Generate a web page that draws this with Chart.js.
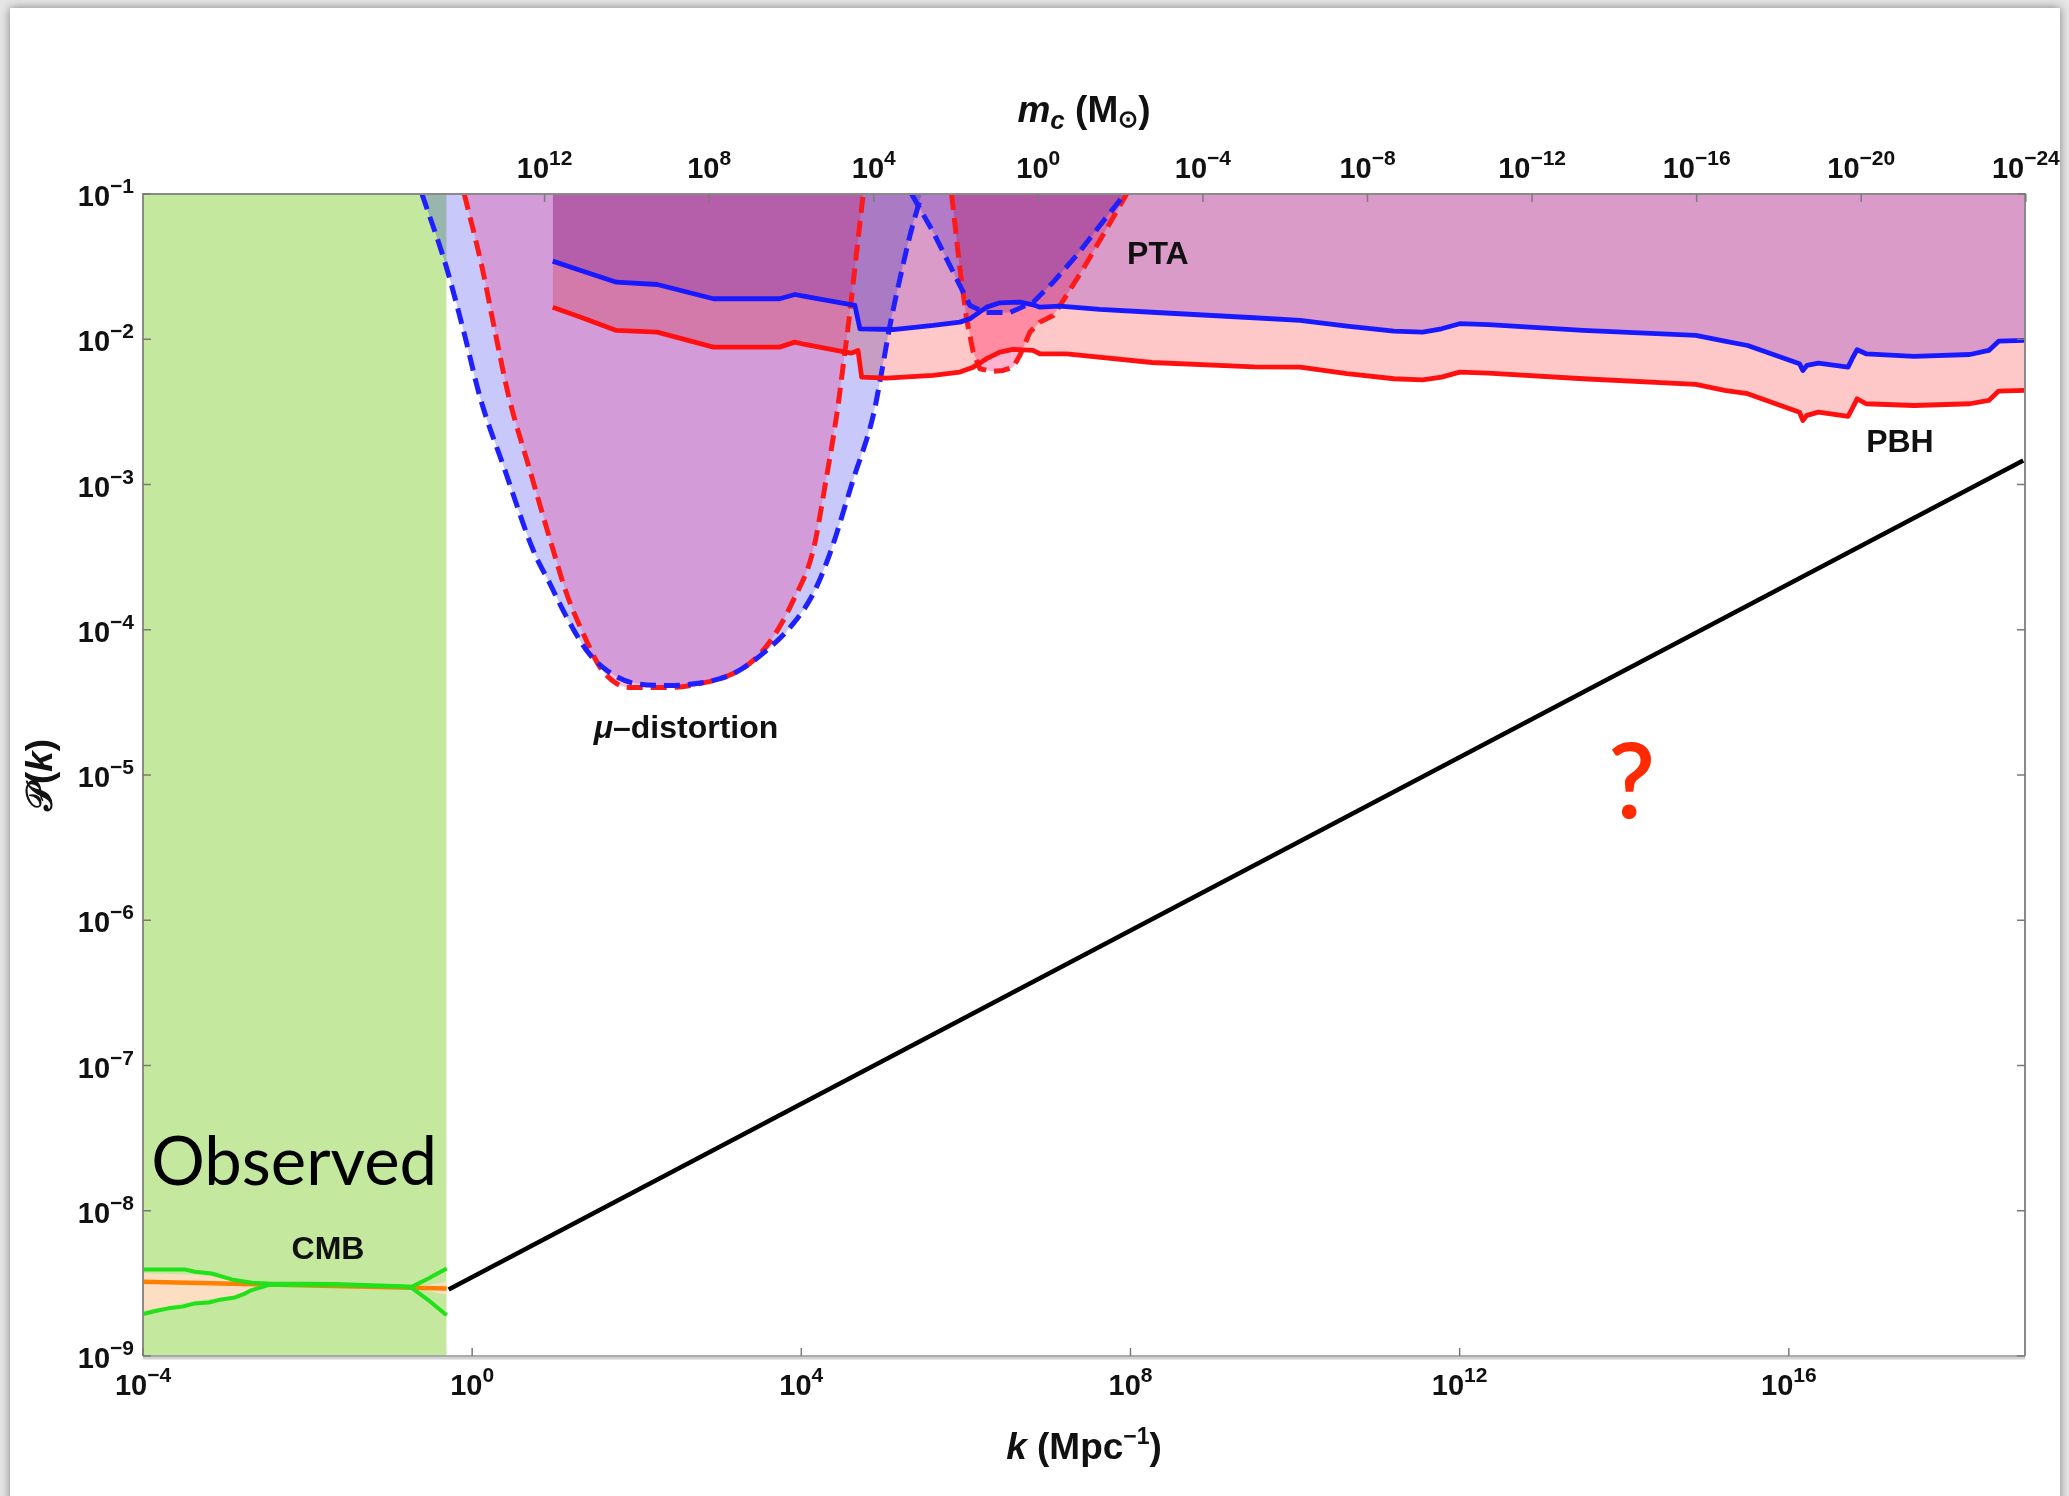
<!DOCTYPE html>
<html>
<head>
<meta charset="utf-8">
<script src="https://cdn.jsdelivr.net/npm/chart.js@4.4.0/dist/chart.umd.min.js"></script>
<style>
    html, body { margin: 0; padding: 0; }
    body { width: 2069px; height: 1496px; background: #e6e6e6; position: relative; overflow: hidden; }
    #card { position: absolute; left: 10px; top: 8px; width: 2050px; height: 1520px; background: #fff; box-shadow: 0 0 9px rgba(0, 0, 0, 0.45); }
    #chart { position: absolute; left: 0; top: 0; }
</style>
</head>
<body>
<div id="card"></div>
<canvas id="chart" width="2069" height="1496"></canvas>
<script>
// all values are [log10 k, log10 P(k)]
const kMaxLog = 18.87;
const massOffset = 13.76;          // log10 m_c = massOffset - 2 log10 k

const observedK = [-4, -0.31];

const muBlue = [[-0.61, -1.0], [-0.313, -1.504], [-0.096, -1.962], [0.095, -2.398], [0.399, -2.903], [0.742, -3.453],
    [0.945, -3.683], [1.148, -3.913], [1.391, -4.142], [1.634, -4.279], [1.957, -4.367], [2.363, -4.383], [2.768, -4.367],
    [3.173, -4.302], [3.578, -4.142], [3.901, -3.958], [4.144, -3.752], [4.347, -3.476], [4.627, -2.972], [4.874, -2.524],
    [4.976, -2.226], [5.077, -1.905], [5.198, -1.584], [5.32, -1.286], [5.462, -1.0]];

const muRed = [[-0.096, -1.0], [0.12, -1.504], [0.283, -1.962], [0.446, -2.398], [0.702, -2.903], [0.985, -3.453],
    [1.148, -3.752], [1.35, -4.027], [1.553, -4.257], [1.756, -4.371], [1.957, -4.398], [2.363, -4.398], [2.768, -4.371],
    [3.173, -4.302], [3.416, -4.211], [3.659, -4.05], [3.902, -3.798], [4.144, -3.453], [4.299, -2.972], [4.429, -2.524],
    [4.509, -2.18], [4.59, -1.813], [4.672, -1.401], [4.752, -1.0]];

const ptaBlue = [[5.34, -1.0], [5.603, -1.263], [5.846, -1.538], [6.049, -1.767], [6.231, -1.816], [6.535, -1.816],
    [6.818, -1.745], [7.061, -1.607], [7.345, -1.423], [7.628, -1.217], [7.932, -1.0]];

const ptaRed = [[5.826, -1.0], [5.927, -1.515], [6.008, -1.859], [6.089, -2.089], [6.17, -2.203], [6.316, -2.222],
    [6.45, -2.215], [6.575, -2.192], [6.656, -2.111], [6.778, -1.951], [6.899, -1.882], [7.061, -1.836], [7.183, -1.733],
    [7.425, -1.515], [7.71, -1.24], [7.953, -1.0]];

const pbhBlue = [[0.979, -1.462], [1.32, -1.527], [1.753, -1.607], [2.249, -1.623], [2.931, -1.721], [3.736, -1.721],
    [3.922, -1.692], [4.044, -1.705], [4.651, -1.767], [4.712, -1.928], [5.117, -1.933], [5.603, -1.905], [5.927, -1.882],
    [6.049, -1.859], [6.252, -1.779], [6.413, -1.749], [6.656, -1.745], [6.818, -1.763], [6.899, -1.779], [7.142, -1.772],
    [7.628, -1.795], [8.26, -1.814], [9.5, -1.852], [10.06, -1.87], [10.63, -1.91], [11.2, -1.944], [11.55, -1.951],
    [11.78, -1.928], [12.0, -1.893], [12.35, -1.9], [13.5, -1.939], [14.87, -1.974], [15.22, -2.013], [15.5, -2.043],
    [16.13, -2.169], [16.17, -2.215], [16.22, -2.18], [16.36, -2.164], [16.72, -2.192], [16.77, -2.134], [16.83, -2.072],
    [16.94, -2.1], [17.52, -2.118], [18.2, -2.105], [18.43, -2.077], [18.55, -2.013], [18.87, -2.008]];

const pbhRed = [[0.979, -1.779], [1.32, -1.848], [1.753, -1.939], [2.249, -1.951], [2.931, -2.054], [3.736, -2.054],
    [3.922, -2.02], [4.044, -2.036], [4.603, -2.096], [4.689, -2.077], [4.733, -2.261], [5.036, -2.268], [5.603, -2.249],
    [5.927, -2.226], [6.089, -2.192], [6.252, -2.134], [6.413, -2.089], [6.571, -2.07], [6.814, -2.077], [6.899, -2.1],
    [7.224, -2.1], [8.26, -2.16], [9.5, -2.19], [10.06, -2.192], [10.63, -2.237], [11.2, -2.272], [11.55, -2.279],
    [11.78, -2.261], [12.0, -2.226], [12.35, -2.233], [13.5, -2.272], [14.87, -2.311], [15.22, -2.352], [15.5, -2.375],
    [16.13, -2.502], [16.17, -2.559], [16.22, -2.524], [16.36, -2.502], [16.72, -2.531], [16.77, -2.478], [16.83, -2.41],
    [16.94, -2.444], [17.52, -2.456], [18.2, -2.444], [18.43, -2.421], [18.55, -2.357], [18.87, -2.352]];

const cmbUpper = [[-4.0, -8.404], [-3.49, -8.404], [-3.368, -8.42], [-3.165, -8.432], [-2.923, -8.473], [-2.679, -8.496],
    [-2.477, -8.5], [-1.667, -8.505], [-0.857, -8.519], [-0.735, -8.524], [-0.533, -8.466], [-0.31, -8.397]];
const cmbLower = [[-4.0, -8.712], [-3.85, -8.69], [-3.69, -8.672], [-3.52, -8.66], [-3.368, -8.638], [-3.2, -8.632],
    [-3.085, -8.615], [-2.882, -8.597], [-2.76, -8.57], [-2.679, -8.546], [-2.477, -8.512], [-1.667, -8.512],
    [-0.857, -8.524], [-0.735, -8.531], [-0.533, -8.615], [-0.31, -8.719]];
const cmbBandUpper = [[-4.0, -8.43], [-3.368, -8.44], [-3.165, -8.452], [-2.923, -8.48], [-2.679, -8.5], [-2.477, -8.503],
    [-0.735, -8.521], [-0.533, -8.51], [-0.31, -8.49]];
const cmbBandLower = [[-4.0, -8.69], [-3.69, -8.655], [-3.368, -8.62], [-3.085, -8.6], [-2.882, -8.585], [-2.679, -8.54],
    [-2.477, -8.512], [-0.735, -8.527], [-0.533, -8.55], [-0.31, -8.58]];
const cmbCentral = [[-4.0, -8.489], [-0.31, -8.535]];

const powerLaw = [[-0.286, -8.542], [18.848, -2.834]];

const yTickExps = [-9, -8, -7, -6, -5, -4, -3, -2, -1];
const kTickExps = [-4, 0, 4, 8, 12, 16];
const massTickExps = [12, 8, 4, 0, -4, -8, -12, -16, -20, -24];

const notes = [
    { text: "CMB", k: -1.752, p: -8.257 },
    { text: "PTA", k: 8.333, p: -1.403 },
    { text: "PBH", k: 17.35, p: -2.703 }
];

const FONT = '"Liberation Sans", Arial, sans-serif';

function pts(arr) {
    return arr.map(([lk, lp]) => ({ x: Math.pow(10, lk), y: Math.pow(10, lp) }));
}

let layers = [];

function fillLayer(data, color, fill, blend, smooth) {
    layers.push({
        data: pts(data), backgroundColor: color, borderWidth: 0, fill: fill, pointRadius: 0,
        blend: blend, cubicInterpolationMode: smooth ? "monotone" : "default"
    });
}

function lineLayer(data, color, width, dash, smooth) {
    layers.push({
        data: pts(data), borderColor: color, borderWidth: width, borderDash: dash || [], fill: false,
        pointRadius: 0, borderCapStyle: "butt", borderJoinStyle: "round",
        cubicInterpolationMode: smooth ? "monotone" : "default"
    });
}

// fills, bottom to top; the exclusion regions darken each other where they overlap
fillLayer([[observedK[0], -1], [observedK[1], -1]], "#c4e89e", "start");
fillLayer(muBlue, "rgba(0,0,230,0.215)", "end", null, true);
fillLayer(muRed, "rgba(240,50,143,0.3)", "end", null, true);
fillLayer(pbhRed, "rgb(255,200,200)", "end", "multiply");
fillLayer(pbhBlue, "rgb(218,198,255)", "end", "multiply");
fillLayer(ptaRed, "rgb(255,179,208)", "end", "multiply");
fillLayer(ptaBlue, "rgb(210,200,255)", "end", "multiply");
fillLayer(cmbBandUpper, "rgba(255,222,196,0.95)", "+1");
fillLayer(cmbBandLower, "rgba(0,0,0,0)", false);

// lines
lineLayer(muRed, "#ff1a1a", 5, [16, 8], true);
lineLayer(muBlue, "#2020ff", 5, [16, 8], true);
lineLayer(ptaRed, "#ff1a1a", 5, [16, 8]);
lineLayer(ptaBlue, "#2020ff", 5, [16, 8]);
lineLayer(pbhRed, "#ff1010", 4.8);
lineLayer(pbhBlue, "#1919ff", 4.8);
lineLayer(cmbCentral, "#ff7f00", 4.5);
lineLayer(cmbUpper, "#22e01a", 4);
lineLayer(cmbLower, "#22e01a", 4);
lineLayer(powerLaw, "#000000", 4.5);

layers.forEach((d, i) => { d.order = layers.length - i; });

// datasets are drawn in index order (index 0 first); the fill of the next one
// is painted by the filler before any hook of ours, so set its blend mode here
const blending = {
    id: "blending",
    beforeDatasetsDraw(chart) {
        chart.ctx.globalCompositeOperation = layers[0].blend || "source-over";
    },
    afterDatasetDraw(chart, args) {
        let next = layers[args.index + 1];
        chart.ctx.globalCompositeOperation = (next && next.blend) || "source-over";
    },
    afterDatasetsDraw(chart) {
        chart.ctx.globalCompositeOperation = "source-over";
    }
};

function runs(ctx, parts, x, y, align) {
    let w = 0;
    parts.forEach(p => { ctx.font = p.f; p.w = ctx.measureText(p.t).width; w += p.w; });
    let x0 = align === "right" ? x - w : align === "left" ? x : x - w / 2;
    ctx.textAlign = "left";
    ctx.textBaseline = "alphabetic";
    parts.forEach(p => { ctx.font = p.f; ctx.fillText(p.t, x0, y + (p.dy || 0)); x0 += p.w; });
}

function powLabel(ctx, exp, x, y, align) {
    let sup = exp < 0 ? "\u2212" + (-exp) : String(exp);
    runs(ctx, [
        { t: "10", f: "bold 29px " + FONT },
        { t: sup, f: "bold 21px " + FONT, dy: -13 }
    ], x, y, align);
}

const decor = {
    id: "decor",
    afterDatasetsDraw(chart) {
        const { ctx, chartArea: a, scales } = chart;
        const x = scales.x, y = scales.y, top = scales.xTop;
        const px = lk => x.getPixelForValue(Math.pow(10, lk));
        const py = lp => y.getPixelForValue(Math.pow(10, lp));
        ctx.save();
        ctx.globalCompositeOperation = "source-over";

        // frame
        ctx.strokeStyle = "#8a8a8a";
        ctx.lineWidth = 2;
        ctx.beginPath();
        ctx.moveTo(a.left, a.bottom);
        ctx.lineTo(a.left, a.top);
        ctx.lineTo(a.right, a.top);
        ctx.lineTo(a.right, a.bottom);
        ctx.stroke();
        ctx.strokeStyle = "#d2d2d2";
        ctx.lineWidth = 4;
        ctx.beginPath();
        ctx.moveTo(a.left, a.bottom + 1.5);
        ctx.lineTo(a.right, a.bottom + 1.5);
        ctx.stroke();
        ctx.strokeStyle = "#9a9a9a";
        ctx.lineWidth = 1.5;
        ctx.beginPath();
        ctx.moveTo(a.left, a.bottom);
        ctx.lineTo(a.right, a.bottom);
        ctx.stroke();

        // tick marks
        ctx.strokeStyle = "#7a7a7a";
        ctx.lineWidth = 1.5;
        ctx.beginPath();
        yTickExps.forEach(e => {
            let v = py(e);
            ctx.moveTo(a.left, v); ctx.lineTo(a.left + 8, v);
            ctx.moveTo(a.right, v); ctx.lineTo(a.right - 8, v);
        });
        kTickExps.forEach(e => {
            let v = px(e);
            ctx.moveTo(v, a.bottom); ctx.lineTo(v, a.bottom - 8);
        });
        massTickExps.forEach(e => {
            let v = top.getPixelForValue(Math.pow(10, e));
            ctx.moveTo(v, a.top); ctx.lineTo(v, a.top + 8);
        });
        ctx.stroke();

        // tick labels
        ctx.fillStyle = "#111";
        yTickExps.forEach(e => powLabel(ctx, e, a.left - 9, py(e) + 12, "right"));
        kTickExps.forEach(e => powLabel(ctx, e, px(e), a.bottom + 39, "center"));
        massTickExps.forEach(e => powLabel(ctx, e, top.getPixelForValue(Math.pow(10, e)), a.top - 16, "center"));

        // axis titles
        let cx = (a.left + a.right) / 2;
        runs(ctx, [
            { t: "m", f: "italic bold 37px " + FONT },
            { t: "c", f: "italic bold 26px " + FONT, dy: 7 },
            { t: " (M", f: "bold 37px " + FONT },
            { t: "\u2299", f: "bold 24px " + FONT, dy: 5 },
            { t: ")", f: "bold 37px " + FONT }
        ], cx, a.top - 72, "center");
        runs(ctx, [
            { t: "k", f: "italic bold 37px " + FONT },
            { t: " (Mpc", f: "bold 37px " + FONT },
            { t: "\u22121", f: "bold 23px " + FONT, dy: -15 },
            { t: ")", f: "bold 37px " + FONT }
        ], cx, a.bottom + 103, "center");
        ctx.save();
        ctx.translate(a.left - 91, (a.top + a.bottom) / 2);
        ctx.rotate(-Math.PI / 2);
        runs(ctx, [
            { t: "\uD835\uDCAB", f: "bold 37px " + FONT },
            { t: "(", f: "bold 37px " + FONT },
            { t: "k", f: "italic bold 37px " + FONT },
            { t: ")", f: "bold 37px " + FONT }
        ], 0, 0, "center");
        ctx.restore();

        // annotations
        notes.forEach(n => {
            runs(ctx, [{ t: n.text, f: "bold 32px " + FONT }], px(n.k), py(n.p) + 11, "center");
        });
        runs(ctx, [
            { t: "\u03BC", f: "italic bold 32px " + FONT },
            { t: "\u2013distortion", f: "bold 32px " + FONT }
        ], px(2.598), py(-4.672) + 11, "center");

        ctx.fillStyle = "#000";
        runs(ctx, [{ t: "Observed", f: "400 67px Lato, 'Open Sans', sans-serif" }], px(-3.9), py(-7.824), "left");

        ctx.fillStyle = "#ff2a00";
        runs(ctx, [{ t: "?", f: "600 104px Lato, 'Open Sans', sans-serif" }], px(14.09), py(-5.298), "center");

        ctx.restore();
    }
};

new Chart(document.getElementById("chart"), {
    type: "line",
    data: { datasets: layers },
    options: {
        responsive: false,
        animation: false,
        devicePixelRatio: 1,
        layout: { padding: { left: 143, top: 194, right: 44, bottom: 140 } },
        plugins: { legend: { display: false }, tooltip: { enabled: false } },
        elements: { point: { radius: 0 }, line: { tension: 0 } },
        scales: {
            x: { type: "logarithmic", min: 1e-4, max: Math.pow(10, kMaxLog), bounds: "data", display: false },
            y: { type: "logarithmic", min: 1e-9, max: 1e-1, bounds: "data", display: false },
            xTop: {
                type: "logarithmic", axis: "x", position: "top", reverse: true, bounds: "data", display: false,
                min: Math.pow(10, massOffset - 2 * kMaxLog), max: Math.pow(10, massOffset + 8)
            }
        }
    },
    plugins: [blending, decor]
});
</script>
</body>
</html>
